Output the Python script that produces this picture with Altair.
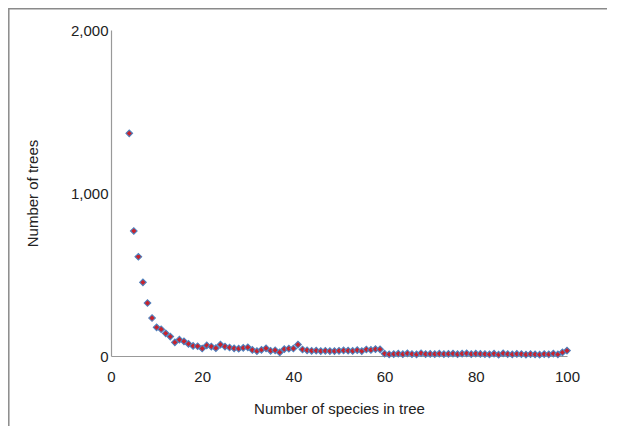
import altair as alt
import pandas as pd

species = list(range(4, 101))
trees = [1366, 767, 609, 452, 325, 233, 176, 164, 139, 119,
         84, 100, 90, 74, 62, 60, 46, 65, 58, 48,
         70, 58, 52, 47, 45, 50, 53, 37, 30, 38,
         47, 32, 35, 22, 42, 45, 46, 70, 40, 35,
         32, 33, 30, 32, 30, 30, 32, 34, 33, 31,
         36, 30, 40, 37, 42, 41, 14, 10, 12, 14,
         11, 16, 12, 10, 17, 12, 13, 12, 14, 12,
         13, 15, 11, 14, 16, 12, 14, 13, 12, 10,
         14, 8, 16, 12, 10, 13, 12, 9, 12, 10,
         8, 12, 10, 15, 10, 22, 33]

x_ticks = [0, 20, 40, 60, 80, 100]
y_ticks = [0, 1000, 2000]

df = pd.DataFrame({"species": species, "trees": trees})

W, H = 456, 326
PL, PT, PR, PB = 103, 22, 40, 70

points = alt.Chart(df).mark_point(
    shape="diamond", filled=True, fill="#c8222c", stroke="#4f81bd",
    strokeWidth=1.1, size=44, opacity=1
).encode(
    x=alt.X("species:Q", scale=alt.Scale(domain=[0, 100], nice=False),
            axis=alt.Axis(values=x_ticks, title="Number of species in tree",
                          grid=False, ticks=False, tickSize=0, labelPadding=13,
                          titlePadding=17, domainColor="#999999", labelFlush=False)),
    y=alt.Y("trees:Q", scale=alt.Scale(domain=[0, 2000], nice=False),
            axis=alt.Axis(values=y_ticks, labelExpr="format(datum.value, ',.0f')",
                          title="Number of trees",
                          grid=False, ticks=False, tickSize=0, labelPadding=3,
                          titlePadding=30, domainColor="#999999"))
)

frame_df = pd.DataFrame({"a": [0]})
frame = alt.Chart(frame_df).mark_rect(
    filled=False, fillOpacity=0, stroke="#8a8a8a", strokeWidth=1.5
).encode(
    x=alt.value(-PL + 0.8), x2=alt.value(W + PR + 60),
    y=alt.value(-PT + 0.8), y2=alt.value(H + PB + 60)
)

chart = alt.layer(points, frame).properties(
    width=W, height=H,
    autosize=alt.AutoSizeParams(type="none"),
    padding={"left": PL, "top": PT, "right": PR, "bottom": PB},
).configure_view(stroke=None).configure_axis(
    labelFont="Liberation Sans", titleFont="Liberation Sans",
    labelFontSize=15, titleFontSize=15, titleFontWeight="normal",
    labelColor="#222222", titleColor="#222222", domainWidth=1.2
)

chart.save("out.html", embed_options={"renderer": "svg", "actions": False})
